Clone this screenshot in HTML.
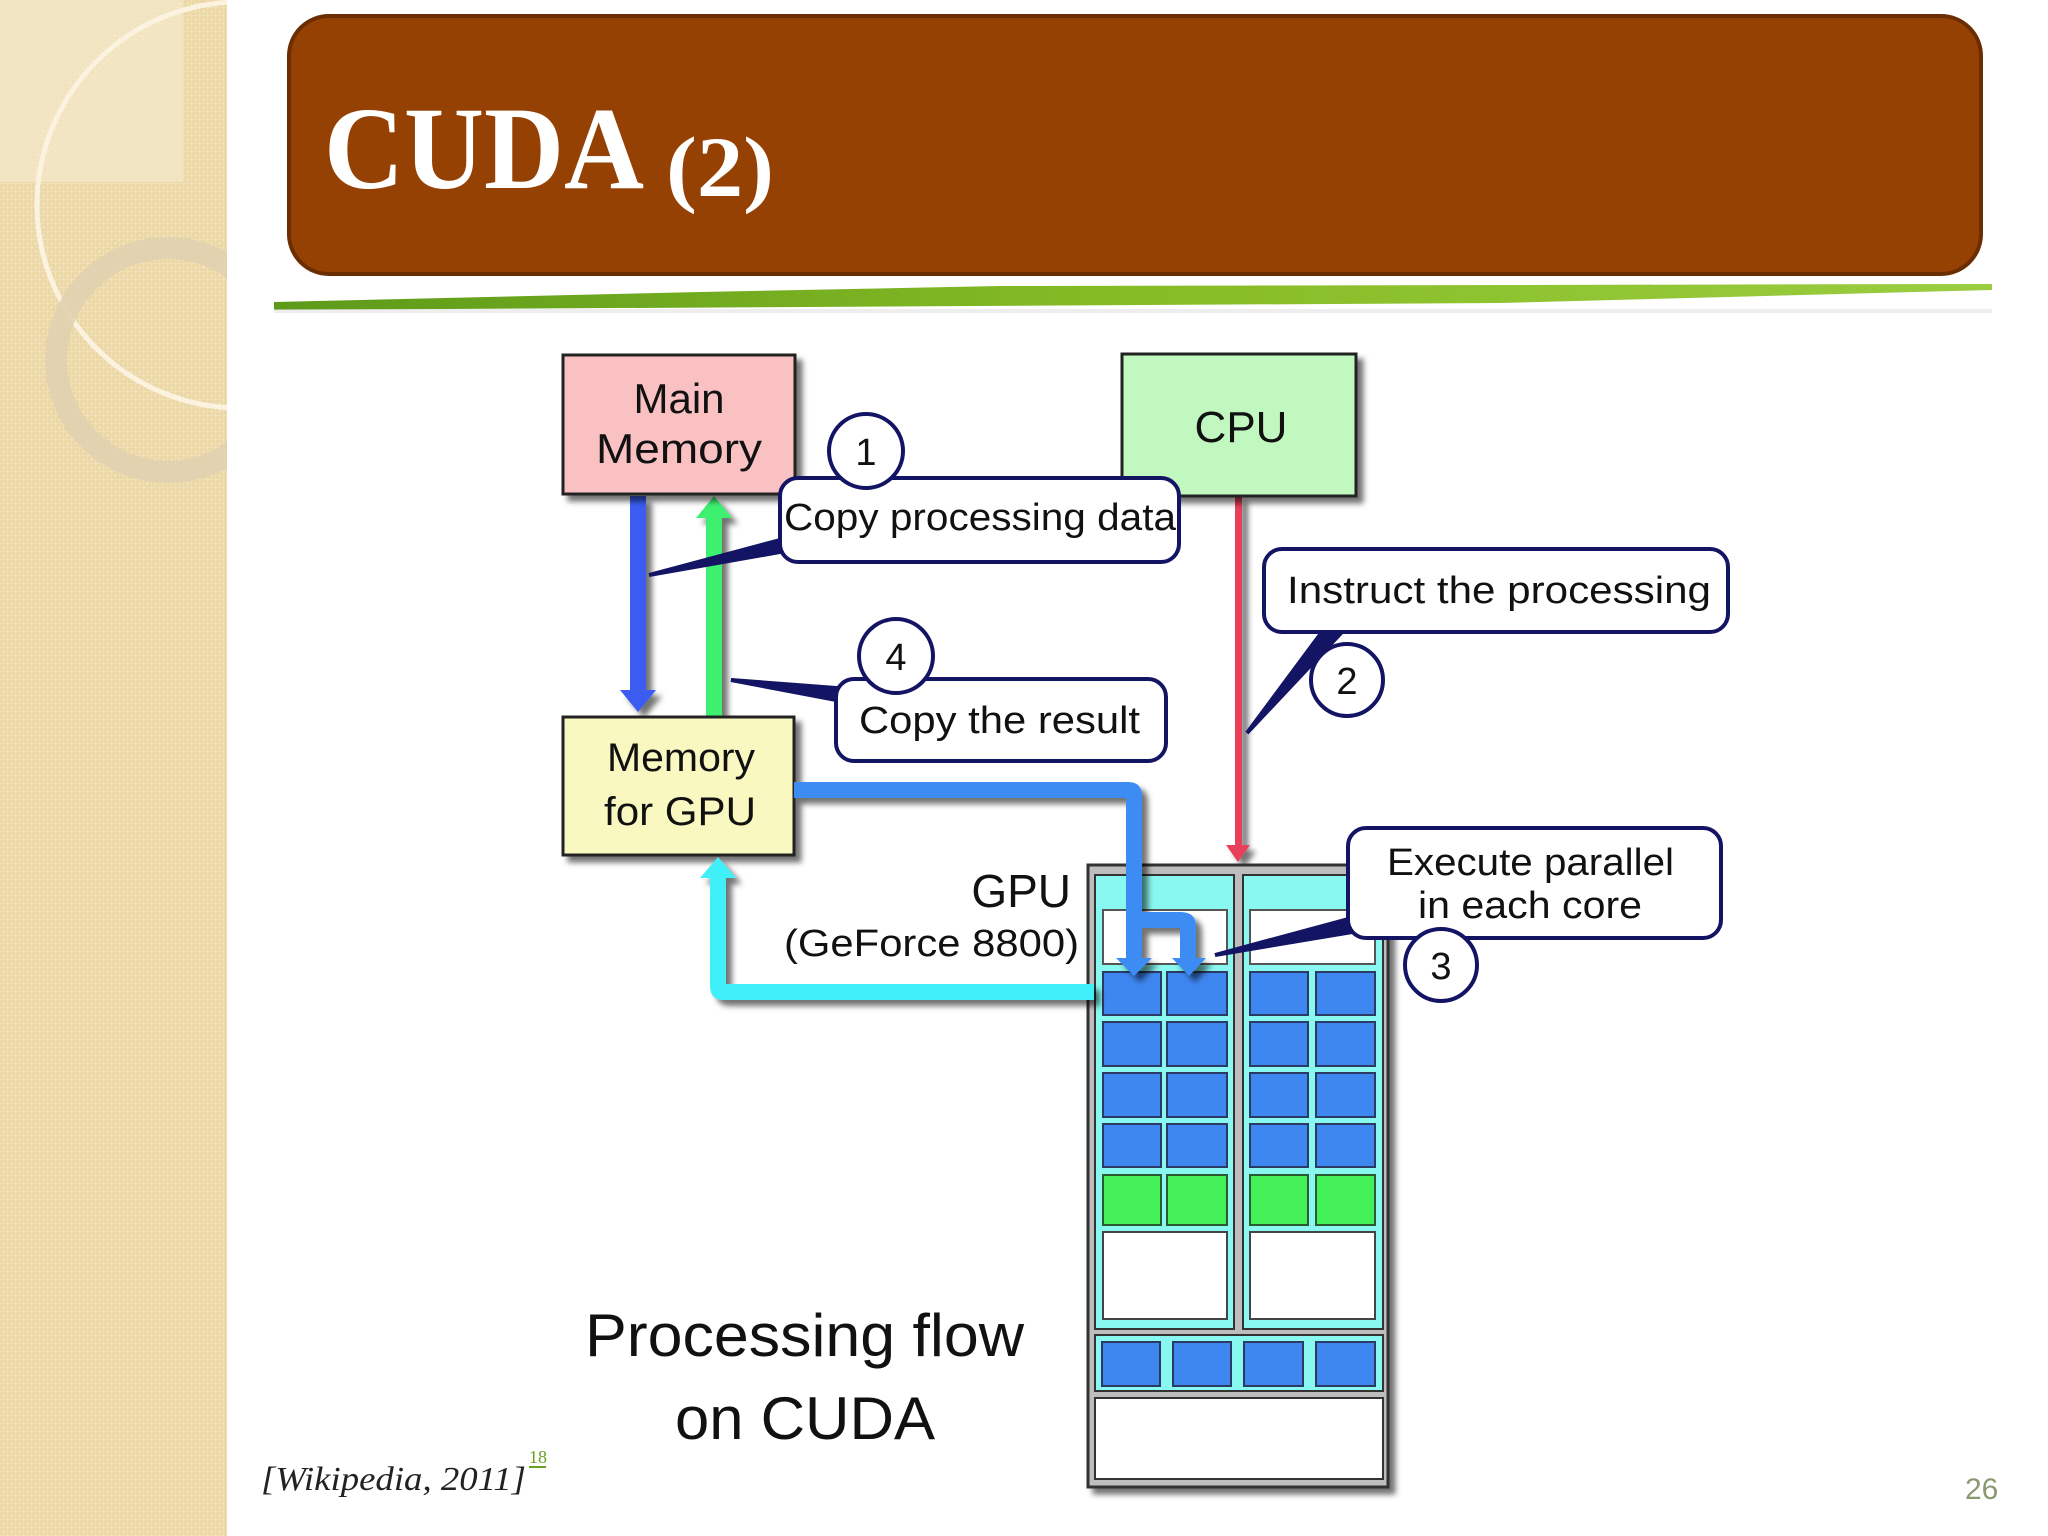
<!DOCTYPE html>
<html><head><meta charset="utf-8"><style>
html,body{margin:0;padding:0;background:#fff;}
svg{display:block;}
</style></head><body>
<svg width="2048" height="1536" viewBox="0 0 2048 1536" xmlns="http://www.w3.org/2000/svg" font-family="Liberation Sans, sans-serif">
<defs>
<pattern id="dots" width="8" height="8" patternUnits="userSpaceOnUse">
<rect width="8" height="8" fill="#F1E0B6"/>
<rect x="1" y="1" width="5" height="5" fill="none" stroke="#E6CF98" stroke-width="1"/>
</pattern>
<linearGradient id="gl" x1="0" x2="1" y1="0" y2="0">
<stop offset="0" stop-color="#5E9A1A"/><stop offset="0.5" stop-color="#86BC25"/><stop offset="1" stop-color="#9ACD40"/>
</linearGradient>
<filter id="sh" x="-10%" y="-10%" width="130%" height="130%"><feDropShadow dx="6" dy="6" stdDeviation="3" flood-color="#000" flood-opacity="0.55"/></filter>
</defs>
<rect x="0" y="0" width="227" height="1536" fill="url(#dots)"/>
<rect x="0" y="0" width="183" height="182" fill="#F6EBD0" opacity="0.6"/>
<circle cx="240" cy="205" r="203" fill="none" stroke="#FBF3E0" stroke-width="5"/>
<circle cx="168" cy="360" r="112" fill="none" stroke="#E0D2B0" stroke-width="22" opacity="0.9"/>
<rect x="227" y="0" width="1821" height="1536" fill="#fff"/>
<rect x="289" y="16" width="1692" height="258" rx="40" fill="#954104" stroke="#6A2E02" stroke-width="4"/>
<text x="324" y="188" font-family="Liberation Serif, serif" font-weight="bold" font-size="118" fill="#fff" textLength="320" lengthAdjust="spacingAndGlyphs">CUDA</text>
<text x="666" y="196" font-family="Liberation Serif, serif" font-weight="bold" font-size="86" fill="#fff" textLength="108" lengthAdjust="spacingAndGlyphs">(2)</text>
<polygon points="274,302 700,292 1000,286 1992,284 1992,290 1500,303 274,310" fill="url(#gl)"/>
<rect x="274" y="309" width="1718" height="4" fill="#ddd" opacity="0.5"/>

<g filter="url(#sh)">
<polygon points="630,496 646,496 646,690 656,690 638,712 620,690 630,690" fill="#3A5CF0"/>
<polygon points="706,518 696,518 714,496 732,518 722,518 722,716 706,716" fill="#3CF070"/>
<polygon points="1235,496 1242,496 1242,845 1250,845 1238,862 1226,845 1235,845" fill="#E8405A"/>
</g>

<g filter="url(#sh)">
<rect x="563" y="355" width="232" height="139" fill="#F9C1C1" stroke="#222" stroke-width="3"/>
<rect x="1122" y="354" width="234" height="142" fill="#C0F8C0" stroke="#222" stroke-width="3"/>
<rect x="563" y="717" width="231" height="138" fill="#F8F8C0" stroke="#222" stroke-width="3"/>
</g>
<text x="679" y="413" font-size="42" text-anchor="middle" fill="#111">Main</text>
<text x="679" y="463" font-size="42" text-anchor="middle" fill="#111" textLength="166" lengthAdjust="spacingAndGlyphs">Memory</text>
<text x="1241" y="442" font-size="44" text-anchor="middle" fill="#111">CPU</text>
<text x="681" y="771" font-size="40" text-anchor="middle" fill="#111" textLength="148" lengthAdjust="spacingAndGlyphs">Memory</text>
<text x="680" y="825" font-size="40" text-anchor="middle" fill="#111" textLength="152" lengthAdjust="spacingAndGlyphs">for GPU</text>

<g filter="url(#sh)">
<rect x="1088" y="865" width="300" height="622" fill="#BDBDBD" stroke="#333" stroke-width="3"/>
</g>
<rect x="1095" y="875" width="139" height="454" fill="#88F8F0" stroke="#333" stroke-width="2"/>
<rect x="1243" y="875" width="140" height="454" fill="#88F8F0" stroke="#333" stroke-width="2"/>
<rect x="1103" y="910" width="124" height="54" fill="#fff" stroke="#555" stroke-width="2"/>
<rect x="1250" y="910" width="125" height="54" fill="#fff" stroke="#555" stroke-width="2"/>
<g fill="#3E86F0" stroke="#2a3a60" stroke-width="2">
<rect x="1103" y="972" width="58" height="43"/><rect x="1167" y="972" width="60" height="43"/>
<rect x="1250" y="972" width="58" height="43"/><rect x="1316" y="972" width="59" height="43"/>
<rect x="1103" y="1022" width="58" height="44"/><rect x="1167" y="1022" width="60" height="44"/>
<rect x="1250" y="1022" width="58" height="44"/><rect x="1316" y="1022" width="59" height="44"/>
<rect x="1103" y="1073" width="58" height="44"/><rect x="1167" y="1073" width="60" height="44"/>
<rect x="1250" y="1073" width="58" height="44"/><rect x="1316" y="1073" width="59" height="44"/>
<rect x="1103" y="1124" width="58" height="43"/><rect x="1167" y="1124" width="60" height="43"/>
<rect x="1250" y="1124" width="58" height="43"/><rect x="1316" y="1124" width="59" height="43"/>
</g>
<g fill="#44F058" stroke="#2a5a30" stroke-width="2">
<rect x="1103" y="1175" width="58" height="50"/><rect x="1167" y="1175" width="60" height="50"/>
<rect x="1250" y="1175" width="58" height="50"/><rect x="1316" y="1175" width="59" height="50"/>
</g>
<rect x="1103" y="1232" width="124" height="87" fill="#fff" stroke="#444" stroke-width="2"/>
<rect x="1250" y="1232" width="125" height="87" fill="#fff" stroke="#444" stroke-width="2"/>
<rect x="1095" y="1335" width="288" height="56" fill="#88F8F0" stroke="#333" stroke-width="2"/>
<g fill="#3E86F0" stroke="#2a3a60" stroke-width="2">
<rect x="1102" y="1342" width="58" height="44"/><rect x="1173" y="1342" width="58" height="44"/>
<rect x="1244" y="1342" width="59" height="44"/><rect x="1316" y="1342" width="59" height="44"/>
</g>
<rect x="1095" y="1398" width="288" height="81" fill="#fff" stroke="#333" stroke-width="2"/>

<g filter="url(#sh)">
<path d="M794,782 L1128,782 Q1142,782 1142,796 L1142,912 L1180,912 Q1196,912 1196,926 L1196,958 L1206,958 L1189,976 L1172,958 L1180,958 L1180,928 L1142,928 L1142,958 L1152,958 L1134,976 L1116,958 L1126,958 L1126,798 L794,798 Z" fill="#3E8CF4"/>
<path d="M1094,1000 L724,1000 Q710,1000 710,986 L710,878 L700,878 L718,857 L736,878 L726,878 L726,984 L1094,984 Z" fill="#40F0F8"/>
</g>

<text x="1071" y="907" font-size="46" text-anchor="end" fill="#111">GPU</text>
<text x="784" y="956" font-size="38" fill="#111" textLength="295" lengthAdjust="spacingAndGlyphs">(GeForce 8800)</text>

<g fill="#fff" stroke="#141464" stroke-width="4">
<path d="M780,540 L649,575 L780,552 Z" fill="#141464"/>
<rect x="780" y="478" width="399" height="84" rx="18"/>
<path d="M836,688 L731,680 L836,700 Z" fill="#141464"/>
<rect x="836" y="679" width="330" height="82" rx="18"/>
<path d="M1322,632 L1247,733 L1342,632 Z" fill="#141464"/>
<rect x="1264" y="549" width="464" height="83" rx="18"/>
<path d="M1352,918 L1215,955 L1352,932 Z" fill="#141464"/>
<rect x="1348" y="828" width="373" height="110" rx="18"/>
<circle cx="866" cy="451" r="37"/>
<circle cx="896" cy="656" r="37"/>
<circle cx="1347" cy="680" r="36"/>
<circle cx="1441" cy="965" r="36"/>
</g>
<g font-size="38" fill="#111" text-anchor="middle">
<text x="866" y="465">1</text>
<text x="896" y="670">4</text>
<text x="1347" y="694">2</text>
<text x="1441" y="979">3</text>
</g>
<g font-size="38" fill="#111">
<text x="784" y="530" textLength="392" lengthAdjust="spacingAndGlyphs">Copy processing data</text>
<text x="859" y="733" textLength="281" lengthAdjust="spacingAndGlyphs">Copy the result</text>
<text x="1287" y="603" textLength="424" lengthAdjust="spacingAndGlyphs">Instruct the processing</text>
<text x="1387" y="875" textLength="287" lengthAdjust="spacingAndGlyphs">Execute parallel</text>
<text x="1418" y="918" textLength="224" lengthAdjust="spacingAndGlyphs">in each core</text>
</g>

<text x="585" y="1356" font-size="60" fill="#111" textLength="439" lengthAdjust="spacingAndGlyphs">Processing flow</text>
<text x="675" y="1439" font-size="60" fill="#111" textLength="260" lengthAdjust="spacingAndGlyphs">on CUDA</text>

<text x="261" y="1490" font-family="Liberation Serif, serif" font-style="italic" font-size="34" fill="#222" textLength="265" lengthAdjust="spacingAndGlyphs">[Wikipedia, 2011]</text>
<text x="529" y="1463" font-family="Liberation Serif, serif" font-size="18" fill="#6AA020">18</text>
<rect x="529" y="1466" width="17" height="2" fill="#6AA020"/>
<text x="1965" y="1499" font-family="Liberation Sans, sans-serif" font-size="30" fill="#8A9A70">26</text>
</svg>
</body></html>
